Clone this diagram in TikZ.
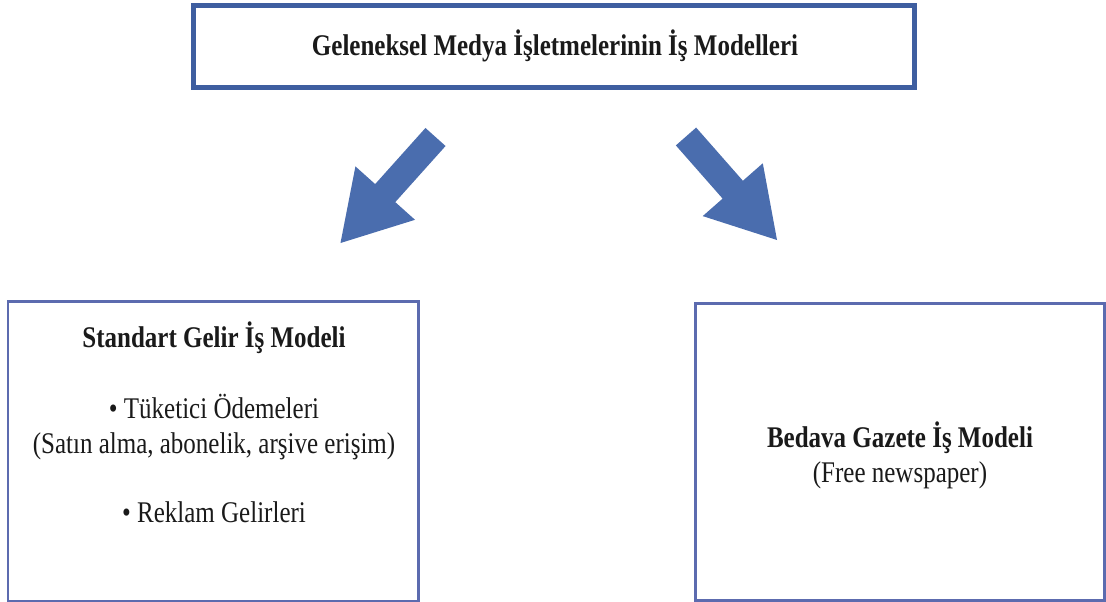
\documentclass[tikz,border=0pt]{standalone}
\usepackage{fontspec}
\usepackage{graphicx}
\setmainfont{Liberation Serif}
\usetikzlibrary{calc}
\definecolor{topblue}{HTML}{3E5EA0}
\definecolor{boxblue}{HTML}{5C6BAF}
\definecolor{arrowblue}{HTML}{4A6DAE}
\definecolor{ink}{HTML}{1A1A1A}
\newcommand{\tall}[1]{\scalebox{1}[1.2]{#1}}
\newcommand{\blockarr}[2]{%
  \coordinate (#1b) at ($(#2)!67pt!(#1)$);
  \fill[arrowblue]
    ($(#1)!13.5pt!90:(#2)$) -- ($(#1b)!13.5pt!-90:(#1)$) --
    ($(#1b)!40pt!-90:(#1)$) -- (#2) --
    ($(#1b)!40pt!90:(#1)$) -- ($(#1b)!13.5pt!90:(#1)$) --
    ($(#1)!13.5pt!-90:(#2)$) -- cycle;
}
\tikzset{
  txt/.style={font=\fontsize{25}{30}\selectfont, text=ink, inner sep=0pt, anchor=base},
  btxt/.style={txt, font=\fontsize{25}{30}\selectfont\bfseries},
  topbox/.style={draw=topblue, line width=5pt, inner sep=0pt},
  subbox/.style={draw=boxblue, line width=2.5pt, inner sep=0pt}
}
\begin{document}
\begin{tikzpicture}[x=1pt,y=-1pt]
\useasboundingbox (0,0) rectangle (1106,602);
\fill[white] (0,0) rectangle (1106,602);

\node[topbox, minimum width=721pt, minimum height=82.5pt] (top) at (554,46.75) {};
\node[btxt] (title) at (555,56) {\tall{Geleneksel Medya İşletmelerinin İş Modelleri}};

\node[subbox, minimum width=410.5pt, minimum height=299.5pt] (left) at (213.25,451.25) {};
\node[subbox, minimum width=409pt, minimum height=297pt] (right) at (900,452) {};

\node[btxt] (l1) at (214,347) {\tall{Standart Gelir İş Modeli}};
\node[txt] (l2) at (214,418) {\tall{• Tüketici Ödemeleri}};
\node[txt] (l3) at (214,453) {\tall{(Satın alma, abonelik, arşive erişim)}};
\node[txt] (l4) at (214,522) {\tall{• Reklam Gelirleri}};

\node[btxt] (r1) at (900,447) {\tall{Bedava Gazete İş Modeli}};
\node[txt] (r2) at (900,482) {\tall{(Free newspaper)}};

\coordinate (a) at (435.5,137);
\coordinate (ap) at (340.5,243);
\coordinate (c) at (686,136.5);
\coordinate (cp) at (777,240);
\blockarr{a}{ap}
\blockarr{c}{cp}
\end{tikzpicture}
\end{document}
